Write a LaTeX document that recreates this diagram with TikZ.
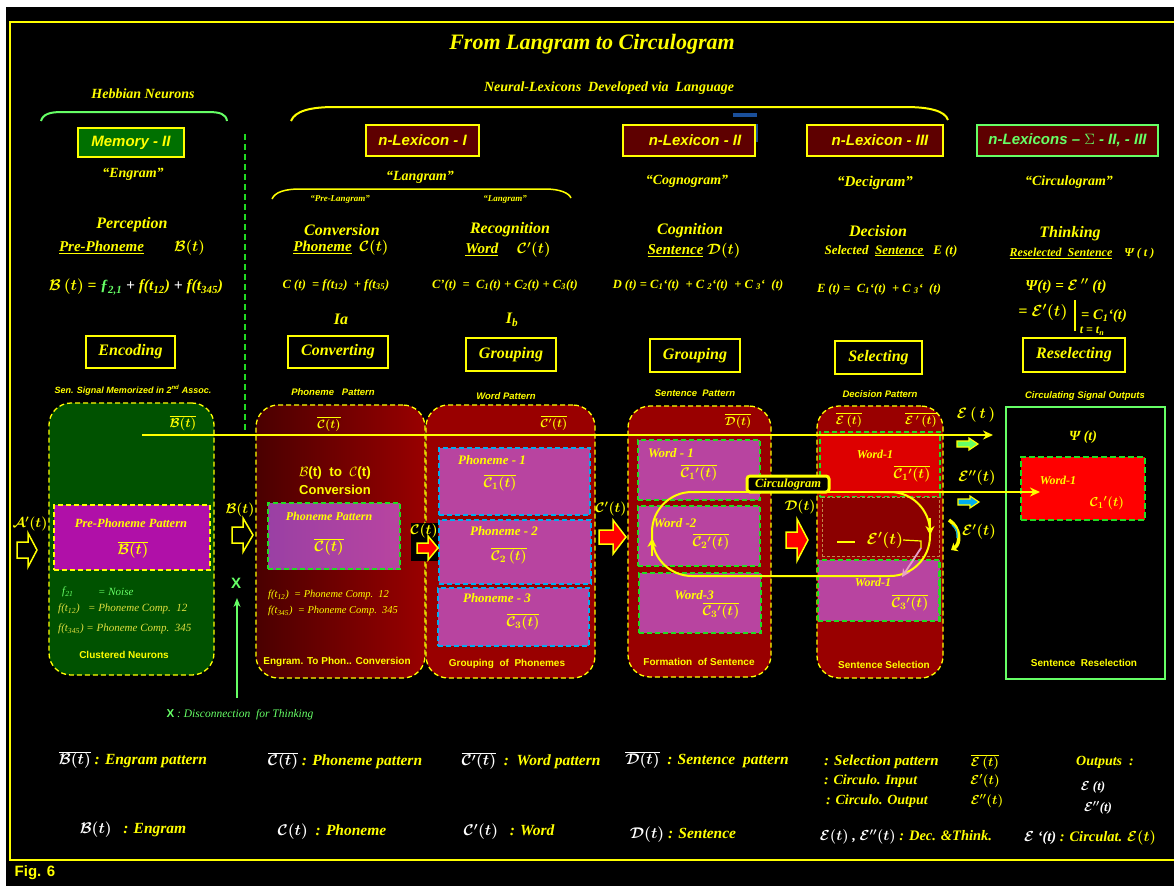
\documentclass[tikz,border=0pt]{standalone}
\usepackage{fix-cm}
\usepackage{fontspec}
\setmainfont{Liberation Serif}
\setsansfont{Liberation Sans}
\usetikzlibrary{arrows.meta}
\definecolor{ylw}{HTML}{FFFF00}
\definecolor{lgreen}{HTML}{66FF66}
\definecolor{dgreen}{HTML}{22DD22}
\definecolor{memgreen}{HTML}{007000}
\definecolor{contgreen}{HTML}{005200}
\definecolor{lexred}{HTML}{5E0000}
\definecolor{boxred}{HTML}{990000}
\definecolor{deepred}{HTML}{4A0000}
\definecolor{magA}{HTML}{B010A8}
\definecolor{magB}{HTML}{B844A0}
\definecolor{magC}{HTML}{9A40A4}
\definecolor{brightred}{HTML}{DD0000}
\definecolor{midred}{HTML}{8B0000}
\definecolor{khaki}{HTML}{E0E040}
\definecolor{orng}{HTML}{C08A4A}
\definecolor{bluebar}{HTML}{1A4F9A}
\definecolor{pinkish}{HTML}{E8A0C8}
\newcommand\blkarrow[7]{\draw[#1] (#2,#4-#5) -- (#7,#4-#5) -- (#7,#4-#6) -- (#3,#4) -- (#7,#4+#6) -- (#7,#4+#5) -- (#2,#4+#5) -- cycle;}
\tikzset{
 ser/.style={font=\fontsize{#1}{#1}\selectfont\bfseries\itshape\boldmath, text=ylw, inner sep=0pt},
 serl/.style={font=\fontsize{#1}{#1}\selectfont\itshape, text=ylw, inner sep=0pt},
 sbi/.style={font=\fontsize{#1}{#1}\selectfont\sffamily\bfseries\itshape, text=ylw, inner sep=0pt},
 sb/.style={font=\fontsize{#1}{#1}\selectfont\sffamily\bfseries, text=ylw, inner sep=0pt},
 lexbox/.style={draw=ylw, line width=1.5pt, fill=lexred, minimum height=31pt, inner sep=0pt, sbi=15},
 procbox/.style={draw=ylw, line width=1.5pt, fill=black, minimum height=32pt, inner sep=0pt, ser=16},
 ydash/.style={draw=ylw, line width=1.3pt, dash pattern=on 5pt off 3pt},
 gdash/.style={draw=dgreen, line width=1.3pt, dash pattern=on 5pt off 3pt},
 cdash/.style={draw=cyan, line width=1.3pt, dash pattern=on 5pt off 3pt},
 container/.style={ydash, rounded corners=22pt, inner sep=0pt},
 inbox/.style={inner sep=0pt},
 yline/.style={draw=ylw, line width=2pt},
}
\begin{document}
\begin{tikzpicture}[x=1pt,y=-1pt]
\useasboundingbox (0,0) rectangle (1174,886);
\fill[white] (0,0) rectangle (1174,886);
\fill[black] (6,7) rectangle (1174,886);
\draw[ylw, line width=1.5pt] (1176,22) -- (10,22) -- (10,860) -- (1176,860);

% ---------- top ----------
\node[ser=22] (title) at (592,44) {From Langram to Circulogram};
\node[ser=14] (hebb) at (143,94) {Hebbian Neurons};
\node[ser=14] (nlex) at (609,88) {Neural-Lexicons\ \ Developed via\ \ Language};
\draw[lgreen, line width=2pt] (41,121) .. controls (43,114) and (50,112) .. (62,112) -- (208,112) .. controls (220,112) and (226,114) .. (227,121);
\draw[ylw, line width=2pt] (291,121) .. controls (295,111) and (310,107) .. (335,107) -- (905,107) .. controls (930,107) and (945,111) .. (948,120);
\draw[ylw, line width=1.5pt] (272,199) .. controls (275,192) and (285,189) .. (300,189) -- (545,189) .. controls (560,189) and (569,193) .. (571,198);
\fill[bluebar] (733,113) rectangle (757,117);
\draw[bluebar, line width=1.5pt] (757,124) -- (757,142);

\node[lexbox, fill=memgreen, minimum width=106pt, minimum height=29pt] (mem) at (131,142.5) {Memory - II};
\node[lexbox, minimum width=113pt] (lex1) at (422.5,140.5) {n-Lexicon - I};
\node[lexbox, minimum width=132pt] (lex2) at (689,140.5) {\hspace*{12pt}n-Lexicon - II};
\node[lexbox, minimum width=136pt] (lex3) at (875,140.5) {\hspace*{10pt}n-Lexicon - III};
\node[lexbox, draw=lgreen, text=lgreen, minimum width=181pt] (lex4) at (1067.5,140.5) {n-Lexicons -- $\Sigma$ - II, - III};

\node[ser=14] (q1) at (133,174) {“Engram”};
\node[ser=14] (q2) at (420,177) {“Langram”};
\node[ser=9] (q2a) at (340,199) {“Pre-Langram”};
\node[ser=9] (q2b) at (505,199) {“Langram”};
\node[ser=14] (q3) at (687,181) {“Cognogram”};
\node[ser=15] (q4) at (875,183) {“Decigram”};
\node[ser=14] (q5) at (1069,182) {“Circulogram”};

\node[ser=16] (h1) at (132,225) {Perception};
\node[ser=16] (h2) at (342,230) {Conversion};
\node[ser=16] (h3) at (510,230) {Recognition};
\node[ser=16] (h4) at (690,231) {Cognition};
\node[ser=16] (h5) at (878,231) {Decision};
\node[ser=16] (h6) at (1070,234) {Thinking};

\node[ser=15] (s1) at (132,248) {\underline{Pre-Phoneme}\qquad$\mathcal{B}(t)$};
\node[ser=15] (s2) at (341,248) {\underline{Phoneme}\ \ $\mathcal{C}(t)$};
\node[ser=15] (s3) at (508,250) {\underline{Word}\quad\ $\mathcal{C}'(t)$};
\node[ser=15] (s4) at (694,251) {\underline{Sentence} $\mathcal{D}(t)$};
\node[ser=13] (s5) at (891,251) {Selected\ \ \underline{Sentence}\ \ \ E (t)};
\node[ser=12] (s6) at (1082,254) {\underline{Reselected\ \ Sentence}\quad Ψ ( t )};

\node[ser=15.5] (e1) at (136,287) {$\mathcal{B}\,(t)$ = {\color{lgreen}ƒ\textsubscript{2,1}} {\color{white}+} f(t\textsubscript{12}) {\color{white}+} f(t\textsubscript{345})};
\node[ser=12.5] (e2) at (336,285) {C (t)\ \ = f(t\textsubscript{12})\ \ + f(t\textsubscript{35})};
\node[ser=12.5] (e3) at (505,285) {C’(t)\ \ =\ \ C\textsubscript{1}(t) + C\textsubscript{2}(t) + C\textsubscript{3}(t)};
\node[ser=12.5] (e4) at (698,285) {D (t) = C\textsubscript{1}‘(t)\ \ + C \textsubscript{2}‘(t)\ \ + C \textsubscript{3}‘\ \ (t)};
\node[ser=12.5] (e5) at (879,289) {E (t) =\ \ C\textsubscript{1}‘(t)\ \ + C \textsubscript{3}‘\ \ (t)};
\node[ser=15] (e6) at (1066,286) {Ψ(t) = $\mathcal{E}\,''$ (t)};
\node[ser=16] (e7) at (1043,312) {= $\mathcal{E}'(t)$};
\draw[ylw, line width=1.8pt] (1075,300) -- (1075,331);
\node[ser=14.5] (e8) at (1104,316) {= C\textsubscript{1}‘(t)};
\node[ser=12] (e9) at (1092,331) {t = t\textsubscript{n}};

\node[ser=16] (ia) at (341,319) {Ia};
\node[ser=16] (ib) at (512,320) {I\textsubscript{b}};

\node[procbox, minimum width=89pt] (enc) at (130.5,352) {Encoding};
\node[procbox, minimum width=100pt] (conv) at (338,352) {Converting};
\node[procbox, minimum width=90pt, minimum height=33pt] (grp1) at (511,354.5) {Grouping};
\node[procbox, minimum width=90pt, minimum height=33pt] (grp2) at (695,355.5) {Grouping};
\node[procbox, minimum width=87pt, minimum height=33pt] (sel) at (878.5,357.5) {Selecting};
\node[procbox, minimum width=102pt, minimum height=34pt] (resel) at (1074,355) {Reselecting};

\draw[dgreen, line width=1.2pt, dash pattern=on 6pt off 4pt] (245,134) -- (245,435);

% ---------- captions ----------
\node[sbi=9] at (133,390) {Sen. Signal Memorized in 2\textsuperscript{nd} Assoc.};
\node[sbi=9.5] at (333,392) {Phoneme\ \ \ Pattern};
\node[sbi=9.5] at (506,396) {Word Pattern};
\node[sbi=9.5] at (695,393) {Sentence\ \ Pattern};
\node[sbi=9.5] at (880,394) {Decision Pattern};
\node[sbi=9.5] at (1085,396) {Circulating Signal Outputs};

% ---------- containers ----------
\node[container, fill=contgreen, minimum width=165pt, minimum height=272pt] (memc) at (131.5,539) {};
\node[container, left color=deepred, right color=boxred, minimum width=169pt, minimum height=273pt] (phc) at (340.5,541.5) {};
\node[container, fill=boxred, minimum width=169pt, minimum height=273pt] (wdc) at (510.5,541.5) {};
\node[container, fill=boxred, minimum width=143pt, minimum height=271pt] (snc) at (699.5,541.5) {};
\node[container, fill=boxred, minimum width=126pt, minimum height=272pt] (dcc) at (880,542) {};
\node[draw=lgreen, line width=2pt, fill=black, minimum width=159pt, minimum height=272pt, inner sep=0pt] (rsc) at (1085.5,543) {};

% memory internals
\node[ser=13] (bbar) at (183,423) {$\overline{\mathcal{B}(t)}$};
\node[inbox, ydash, fill=magA, minimum width=156pt, minimum height=65pt] (prep) at (132,537.5) {};
\node[ser=12.5] at (131,523) {Pre-Phoneme Pattern};
\node[ser=15] at (133,550) {$\overline{\mathcal{B}(t)}$};
\node[serl=11, text=lgreen, anchor=west] at (62,592) {f\textsubscript{21}};
\node[serl=11, text=lgreen, anchor=west] at (98,592) {= Noise};
\node[serl=11, text=khaki, anchor=west] at (58,609) {f(t\textsubscript{12})\ \ \ = Phoneme Comp.\ \ 12};
\node[serl=11, text=khaki, anchor=west] at (58,629) {f(t\textsubscript{345}) = Phoneme Comp.\ \ 345};
\node[sb=10] at (124,655) {Clustered Neurons};

% phoneme conversion internals
\node[ser=12] at (329,424) {$\overline{\mathcal{C}(t)}$};
\node[sb=13.5] at (335,473) {$\mathcal{B}$(t)\ \ to\ \ $\mathcal{C}$(t)};
\node[sb=13] at (335,490) {Conversion};
\node[inbox, gdash, left color=magC, right color=magB, minimum width=132pt, minimum height=66pt] (phpat) at (334,536) {};
\node[ser=12] at (329,516) {Phoneme Pattern};
\node[ser=15] at (329,547) {$\overline{\mathcal{C}(t)}$};
\node[serl=10.5, anchor=west] at (268,595) {f(t\textsubscript{12})\ \ = Phoneme Comp.\ \ 12};
\node[serl=10.5, anchor=west] at (268,611) {f(t\textsubscript{345})\ \ = Phoneme Comp.\ \ 345};
\node[sb=10] at (337,662) {Engram. To Phon.. Conversion};

% word pattern internals
\node[ser=12] at (554,423) {$\overline{\mathcal{C}'(t)}$};
\node[inbox, cdash, fill=magB, minimum width=151pt, minimum height=67pt] (p1) at (514.5,481.5) {};
\node[inbox, cdash, fill=magB, minimum width=152pt, minimum height=64pt] (p2) at (515,552) {};
\node[inbox, cdash, fill=magB, minimum width=151pt, minimum height=58pt] (p3) at (513.5,617) {};
\node[ser=13] at (492,460) {Phoneme - 1};
\node[ser=14] at (500,483) {$\overline{\mathcal{C}_1(t)}$};
\node[ser=13] at (504,531) {Phoneme - 2};
\node[ser=14] at (509,556) {$\overline{\mathcal{C}_2\,(t)}$};
\node[ser=13] at (497,598) {Phoneme - 3};
\node[ser=14] at (523,622) {$\overline{\mathcal{C}_3(t)}$};
\node[sb=10] at (507,664) {Grouping\ \ of\ \ Phonemes};

% sentence internals
\node[ser=12] at (738,421) {$\overline{\mathcal{D}(t)}$};
\node[inbox, gdash, fill=magB, minimum width=122pt, minimum height=60pt] (w1) at (699,470) {};
\node[inbox, gdash, fill=magB, minimum width=122pt, minimum height=60pt] (w2) at (699,536) {};
\node[inbox, gdash, fill=magB, minimum width=122pt, minimum height=60pt] (w3) at (700,603) {};
\node[ser=13] at (671,453) {Word - 1};
\node[ser=14] at (699,473) {$\overline{\mathcal{C}_1{}'(t)}$};
\node[ser=13] at (675,523) {Word -2};
\node[ser=14] at (711,542) {$\overline{\mathcal{C}_2{}'(t)}$};
\node[ser=13] at (694,595) {Word-3};
\node[ser=14] at (721,611) {$\overline{\mathcal{C}_3{}'(t)}$};
\node[sb=10] at (699,662) {Formation\ \ of Sentence};

% decision internals
\node[ser=12] at (849,420) {$\overline{\mathcal{E}\,(t)}$};
\node[ser=12] at (921,420) {$\overline{\mathcal{E}\,'\,(t)}$};
\node[inbox, gdash, fill=brightred, minimum width=120pt, minimum height=65pt] (d1) at (880,464.5) {};
\node[inbox, draw=orng, line width=1pt, dash pattern=on 3pt off 2pt, fill=midred, minimum width=117pt, minimum height=59pt] (d2) at (880.5,526.5) {};
\node[inbox, gdash, fill=magB, minimum width=122pt, minimum height=61pt] (d3) at (879,590.5) {};
\draw[dgreen, line width=3pt, dash pattern=on 6pt off 3pt] (939,562) -- (939,620);
\node[ser=12] at (875,454) {Word-1};
\node[ser=14] at (912,474) {$\overline{\mathcal{C}_1{}'(t)}$};
\node[ser=16] (eprime) at (885,540) {$\mathcal{E}'(t)$};
\draw[ylw, line width=1.2pt] (837,542) -- (855,542);
\node[ser=12] at (873,582) {Word-1};
\node[ser=14] at (910,603) {$\overline{\mathcal{C}_3{}'(t)}$};
\node[sb=10] at (884,665) {Sentence Selection};

% reselection internals
\node[ser=14] at (1083,437) {Ψ (t)};
\node[inbox, draw=dgreen, line width=2pt, dash pattern=on 6pt off 3pt, fill=red, minimum width=124pt, minimum height=63pt] (r1) at (1083,488.5) {};
\node[ser=12] at (1058,480) {Word-1};
\node[ser=13] at (1107,503) {$\mathcal{C}_1{}'(t)$};
\node[sb=10] at (1084,663) {Sentence\ \ Reselection};

% ---------- block arrows ----------
\blkarrow{ylw, line width=1.5pt, fill=black}{17}{37}{550}{8}{17}{28}
\blkarrow{ylw, line width=1.5pt, fill=black}{232}{253}{535}{8}{17}{243}
\fill[black] (411,523) rectangle (438,561);
\blkarrow{ylw, line width=1.5pt, fill=red}{417}{438}{548}{5}{12}{428}
\blkarrow{ylw, line width=1.5pt, fill=red}{599}{626}{537}{7}{17}{613}
\blkarrow{ylw, line width=1.5pt, fill=red}{786}{808}{540}{8}{21}{797}
\blkarrow{ylw, line width=1.2pt, fill=lgreen}{957}{978}{444}{3}{6}{969}
\blkarrow{ylw, line width=1.2pt, fill=cyan}{958}{979}{502}{3}{6}{970}

\node[ser=14] (lA) at (30,524) {$\mathcal{A}'(t)$};
\node[ser=14] (lB) at (240,510) {$\mathcal{B}(t)$};
\node[ser=14] (lC) at (424,531) {$\mathcal{C}(t)$};
\node[ser=14] (lC2) at (611,509) {$\mathcal{C}'(t)$};
\node[ser=14] (lD) at (800,507) {$\mathcal{D}(t)$};
\node[ser=15] (lE) at (976,415) {$\mathcal{E}\,(\,t\,)$};
\node[ser=15] (lE2) at (977,478) {$\mathcal{E}''(t)$};
\node[ser=15] (lE1) at (979,532) {$\mathcal{E}'(t)$};

% ---------- connectors ----------
\coordinate (bstart) at (142,435);
\coordinate (eend) at (993,435);
\draw[yline, -{Stealth[length=10pt,width=9pt]}] (bstart) -- (eend);
\draw[yline, rounded corners=40pt] (700,492) -- (652,492) -- (652,576) -- (930,576) -- (930,492) -- (880,492);
\coordinate (loopstart) at (690,492);
\coordinate (e2end) at (1040,492);
\draw[yline, -{Stealth[length=10pt,width=9pt]}] (loopstart) -- (e2end);
\draw[yline, -{Stealth[length=9pt,width=9pt]}] (930,518) -- (930,535);
\draw[yline, -{Stealth[length=9pt,width=9pt]}] (652,556) -- (652,538);
\node[draw=ylw, line width=3pt, fill=black, rounded corners=3pt, inner sep=2pt, minimum width=82pt, minimum height=16pt, ser=12.5] (circ) at (788,484) {Circulogram};
\draw[ylw, line width=1.2pt] (eprime.east) -- (921,541) -- (921,548);
\draw[pinkish, line width=1.8pt, -{Stealth[length=8pt,width=8pt]}] (921,548) -- (902,577);
\draw[ylw, line width=3.5pt, -{Stealth[length=6pt,width=10pt]}] (949,520) .. controls (961,528) and (961,544) .. (951,550);
\draw[cyan, line width=1.2pt] (952,525) .. controls (957,530) .. (957,538);

\node[sb=15, text=lgreen] (X) at (236,583) {X};
\coordinate (xfoot) at (237,698);
\coordinate (xtip) at (237,598);
\draw[lgreen, line width=1.2pt, -{Stealth[length=9pt,width=7pt]}] (xfoot) -- (xtip);
\node[serl=11.5, text=lgreen] (xnote) at (240,715) {{\sffamily\bfseries\upshape X} : Disconnection\ \ for Thinking};

% ---------- legend ----------
\node[ser=15.5] at (133,760) {{\color{white}$\overline{\mathcal{B}(t)}$} : Engram pattern};
\node[ser=15.5] at (345,761) {{\color{white}$\overline{\mathcal{C}(t)}$} : Phoneme pattern};
\node[ser=15.5] at (531,761) {{\color{white}$\overline{\mathcal{C}'(t)}$}\ \ :\ \ Word pattern};
\node[ser=15.5] at (707,760) {{\color{white}$\overline{\mathcal{D}(t)}$}\ \ : Sentence\ \ pattern};
\node[ser=15, anchor=west] at (824,762) {: Selection pattern};
\node[ser=14, anchor=west] at (824,781) {: Circulo. Input};
\node[ser=14, anchor=west] at (826,801) {: Circulo. Output};
\node[ser=13] at (985,762) {$\overline{\mathcal{E}\,(t)}$};
\node[ser=13] at (985,781) {$\mathcal{E}'(t)$};
\node[ser=13] at (987,801) {$\mathcal{E}''(t)$};
\node[ser=14] at (1105,762) {Outputs\ \ :};
\node[ser=13, text=white] at (1093,787) {$\mathcal{E}$ (t)};
\node[ser=13, text=white] at (1098,808) {$\mathcal{E}''$(t)};

\node[ser=15.5] at (133,830) {{\color{white}$\mathcal{B}(t)$}\ \ \ : Engram};
\node[ser=15.5] at (332,832) {{\color{white}$\mathcal{C}(t)$}\ \ : Phoneme};
\node[ser=15.5] at (509,832) {{\color{white}$\mathcal{C}'(t)$}\ \ \ : Word};
\node[ser=15.5] at (683,835) {{\color{white}$\mathcal{D}(t)$}\ : Sentence};
\node[ser=14.5] at (906,837) {{\color{white}$\mathcal{E}(t)$ , $\mathcal{E}''(t)$} : Dec. \&Think.};
\node[ser=14.5] at (1090,838) {{\color{white}$\mathcal{E}$ ‘(t)}\ : Circulat. $\mathcal{E}(t)$};

\node[sb=15] (fig) at (35,873) {Fig. 6};
\end{tikzpicture}
\end{document}
